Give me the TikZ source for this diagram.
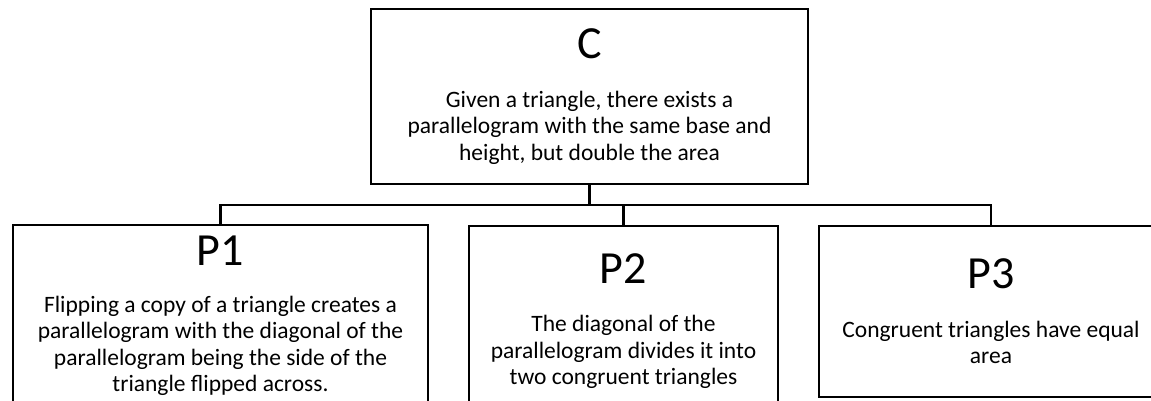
\documentclass[tikz,border=0pt]{standalone}
\usepackage{fontspec}
\setmainfont{Carlito}
\usetikzlibrary{positioning, calc}

\newcommand{\headtext}{\fontsize{46}{50}\selectfont}
\newcommand{\bodytext}{\fontsize{23.5}{26.5}\selectfont}

\begin{document}
\begin{tikzpicture}[x=1pt, y=-1pt,
    claim box/.style={rectangle, draw=black, line width=2.6pt, fill=white,
                      inner sep=0pt, align=center, font=\bodytext},
    link/.style={draw=black, line width=2.6pt},
]
    \useasboundingbox (0,0) rectangle (1151,400);
    \fill[white] (0,0) rectangle (1151,400);

    % ── Claim ──
    \node[claim box, minimum width=437pt, minimum height=175pt] (claim) at (589.5,96.5)
        {{\headtext C}\\[22pt]
         Given a triangle, there exists a\\
         parallelogram with the same base and\\
         height, but double the area};

    % ── Premises ──
    \node[claim box, minimum width=415pt, minimum height=182pt] (prem1) at (220.5,316)
        {{\headtext P1}\\[20pt]
         Flipping a copy of a triangle creates a\\
         parallelogram with the diagonal of the\\
         parallelogram being the side of the\\
         triangle flipped across.};
    \node[claim box, minimum width=309pt, minimum height=190pt] (prem2) at (623.5,321)
        {{\headtext P2}\\[22pt]
         The diagonal of the\\
         parallelogram divides it into\\
         two congruent triangles};
    \node[claim box, minimum width=344pt, minimum height=171pt] (prem3) at (991,311.5)
        {{\headtext P3}\\[22pt]
         Congruent triangles have equal\\
         area};

    % ── Links ──
    \coordinate (fork) at (589.5,205);
    \draw[link] (claim.south) -- (fork);
    \draw[link] (prem1.north) |- (fork) -| (prem3.north);
    \draw[link] (prem2.north) -- (prem2.north |- fork);

\end{tikzpicture}
\end{document}
